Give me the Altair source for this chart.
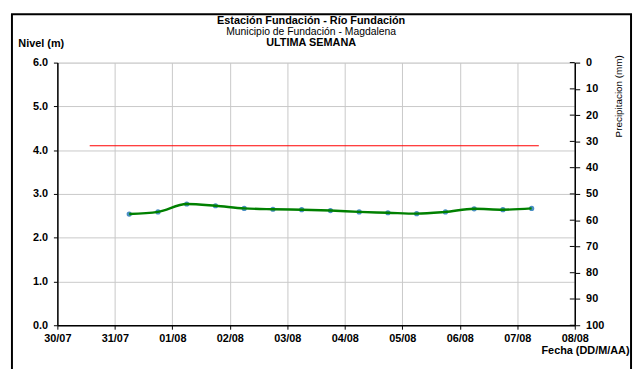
import altair as alt
import pandas as pd

# ---- data ----
fechas = [
    "2020-07-31T06:00:00Z", "2020-07-31T18:00:00Z",
    "2020-08-01T06:00:00Z", "2020-08-01T18:00:00Z",
    "2020-08-02T06:00:00Z", "2020-08-02T18:00:00Z",
    "2020-08-03T06:00:00Z", "2020-08-03T18:00:00Z",
    "2020-08-04T06:00:00Z", "2020-08-04T18:00:00Z",
    "2020-08-05T06:00:00Z", "2020-08-05T18:00:00Z",
    "2020-08-06T06:00:00Z", "2020-08-06T18:00:00Z",
    "2020-08-07T06:00:00Z",
]
nivel = [2.54, 2.59, 2.77, 2.73, 2.67, 2.65, 2.64, 2.62,
         2.59, 2.57, 2.55, 2.59, 2.66, 2.64, 2.67]

alerta_fechas = ["2020-07-30T13:30:00Z", "2020-08-07T09:00:00Z"]
alerta_nivel = [4.1, 4.1]

dias = [30, 31, 1, 2, 3, 4, 5, 6, 7, 8]
meses = [7, 7, 8, 8, 8, 8, 8, 8, 8, 8]
nivel_ticks = [0, 1, 2, 3, 4, 5, 6]
precip_ticks = [0, 10, 20, 30, 40, 50, 60, 70, 80, 90, 100]

titulo = "Estación Fundación - Río Fundación"
subtitulo = "Municipio de Fundación - Magdalena"
periodo = "ULTIMA SEMANA"

FONT = "Liberation Sans"
W, H = 524, 266

df = pd.DataFrame({"fecha": fechas, "nivel": nivel})
df_alerta = pd.DataFrame({"fecha": alerta_fechas, "nivel": alerta_nivel})
df_precip = pd.DataFrame({"p": precip_ticks})
one = pd.DataFrame({"k": [0]})

x_values = [alt.DateTime(year=2020, month=m, date=d, utc=True) for d, m in zip(dias, meses)]
x_scale = alt.Scale(type="utc",
                    domain=[x_values[0], x_values[-1]])
x_axis = alt.Axis(values=x_values,
                  labelExpr="utcFormat(datum.value, '%d/%m')",
                  labelFlush=False, labelOverlap=False,
                  title="Fecha (DD/M/AA)",
                  titleX=579, titleY=26, titleAlign="right", titleBaseline="middle",
                  titleFontWeight="bold", titleFontSize=11, titleFont=FONT,
                  labelFont=FONT, labelFontWeight="bold", labelFontSize=11,
                  labelColor="black", labelPadding=3,
                  domainColor="black", domainWidth=1.5,
                  tickColor="black", tickSize=4,
                  grid=True, gridColor="#c8c8c8", gridWidth=1)

y_scale = alt.Scale(domain=[0, 6])
y_axis = alt.Axis(values=nivel_ticks, format=".1f",
                  title="Nivel (m)", titleAngle=0,
                  titleX=-40, titleY=-19, titleAlign="left", titleBaseline="middle",
                  titleFontWeight="bold", titleFontSize=11, titleFont=FONT,
                  labelFont=FONT, labelFontWeight="bold", labelFontSize=11,
                  labelColor="black", labelPadding=6,
                  domainColor="black", domainWidth=1.5,
                  tickColor="black", tickSize=4,
                  grid=True, gridColor="#c8c8c8", gridWidth=1)

alerta = alt.Chart(df_alerta).mark_line(color="#ff0000", strokeWidth=1.2).encode(
    x=alt.X("fecha:T", scale=x_scale, axis=x_axis),
    y=alt.Y("nivel:Q", scale=y_scale, axis=y_axis),
)

puntos = alt.Chart(df).mark_point(filled=True, size=28, color="#4a8fc4", opacity=1).encode(
    x=alt.X("fecha:T", scale=x_scale),
    y=alt.Y("nivel:Q", scale=y_scale),
)

linea = alt.Chart(df).mark_line(color="#008000", strokeWidth=2.5, interpolate="monotone").encode(
    x=alt.X("fecha:T", scale=x_scale),
    y=alt.Y("nivel:Q", scale=y_scale),
)

nivel_layer = alt.layer(alerta, puntos, linea)

precip = alt.Chart(df_precip).mark_rule(color="black", strokeWidth=1).encode(
    x=alt.value(W - 5), x2=alt.value(W),
    y=alt.Y("p:Q", scale=alt.Scale(domain=[0, 100], reverse=True),
            axis=alt.Axis(orient="right", values=precip_ticks,
                          title="Precipitacion (mm)", titleAngle=-90,
                          titleX=44, titleY=-8, titleAlign="right",
                          titleBaseline="middle",
                          titleFont=FONT, titleFontSize=10, titleFontWeight="normal",
                          labelFont=FONT, labelFontWeight="bold", labelFontSize=11,
                          labelColor="black", labelPadding=6,
                          domainColor="black", domainWidth=1.5,
                          tickColor="black", tickSize=5, grid=False)),
)

t1 = alt.Chart(one).mark_text(text=titulo, font=FONT, fontSize=11, fontWeight="bold",
                              align="center", baseline="middle", color="black").encode(
    x=alt.value(257), y=alt.value(-42))
t2 = alt.Chart(one).mark_text(text=subtitulo, font=FONT, fontSize=10.5,
                              align="center", baseline="middle", color="black").encode(
    x=alt.value(257), y=alt.value(-31))
t3 = alt.Chart(one).mark_text(text=periodo, font=FONT, fontSize=11, fontWeight="bold",
                              align="center", baseline="middle", color="black").encode(
    x=alt.value(257), y=alt.value(-20))

marco = alt.Chart(one).mark_rect(fill=None, stroke="black", strokeWidth=2).encode(
    x=alt.value(-46), x2=alt.value(581), y=alt.value(-49), y2=alt.value(330))

chart = alt.layer(nivel_layer, precip, t1, t2, t3, marco).resolve_scale(
    y="independent"
).properties(
    width=W, height=H,
    autosize=alt.AutoSizeParams(type="none"),
    padding={"left": 50, "top": 53, "right": 60, "bottom": 42},
).configure_view(stroke=None).configure(background="white")

chart.save("out.html", embed_options={"renderer": "svg", "actions": False})
